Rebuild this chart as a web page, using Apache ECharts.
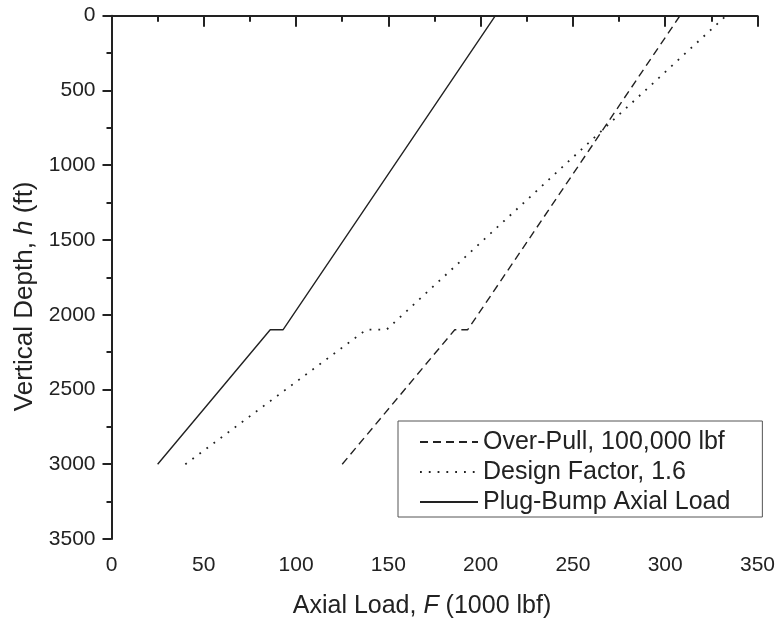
<!DOCTYPE html>
<html>
<head>
<meta charset="utf-8">
<script src="https://cdn.jsdelivr.net/npm/echarts@6/dist/echarts.min.js"></script>
<style>
html,body{margin:0;padding:0;background:#fff;}
#chart{width:778px;height:624px;}
</style>
</head>
<body>
<div id="chart"></div>
<script>
// Data
var depth = [3000, 2100, 2100, 0];
var overPull = [125, 186, 193, 308];
var designFactor = [40, 138, 149, 333];
var plugBump = [25, 86, 93, 208];
var seriesNames = ['Over-Pull, 100,000 lbf', 'Design Factor, 1.6', 'Plug-Bump Axial Load'];

function pairs(xs) {
  return xs.map(function (x, i) { return [x, depth[i]]; });
}

var font = '"Liberation Sans", Arial, Helvetica, sans-serif';
var ink = '#222';

var chart = echarts.init(document.getElementById('chart'), null, {renderer: 'canvas'});
chart.setOption({
  backgroundColor: '#fff',
  animation: false,
  grid: {left: 111.5, right: 19.7, top: 15.7, bottom: 82.3, containLabel: false},
  legend: {
    orient: 'vertical',
    left: 398, top: 421,
    padding: [8, 32, 2, 21],
    itemWidth: 58, itemHeight: 14, itemGap: 4,
    borderColor: '#555', borderWidth: 1,
    itemStyle: {opacity: 0},
    textStyle: {fontFamily: font, fontSize: 25, color: ink, lineHeight: 26},
    data: seriesNames
  },
  xAxis: {
    type: 'value', min: 0, max: 350, interval: 50,
    name: 'Axial Load, {i|F} (1000 lbf)',
    nameLocation: 'middle', nameGap: 55,
    nameTextStyle: {fontFamily: font, fontSize: 25, color: ink, padding: [0, 25, 0, 0],
      rich: {i: {fontFamily: font, fontSize: 25, color: ink, fontStyle: 'italic'}}},
    axisLine: {show: true, lineStyle: {color: ink, width: 2}},
    axisTick: {show: true, inside: false, length: 11, lineStyle: {color: ink, width: 2}},
    minorTick: {show: true, splitNumber: 2, length: 6, lineStyle: {color: ink, width: 2}},
    axisLabel: {fontFamily: font, fontSize: 21, color: ink, margin: 16,
      formatter: function (v) { return String(v); }},
    splitLine: {show: false}
  },
  yAxis: {
    type: 'value', min: 0, max: 3500, interval: 500, inverse: true,
    name: 'Vertical Depth, {i|h} (ft)',
    nameLocation: 'middle', nameGap: 72, nameRotate: 90,
    nameTextStyle: {fontFamily: font, fontSize: 26, color: ink, padding: [0, 38, 0, 0],
      rich: {i: {fontFamily: font, fontSize: 26, color: ink, fontStyle: 'italic'}}},
    axisLine: {show: true, lineStyle: {color: ink, width: 2}},
    axisTick: {show: true, inside: false, length: 9, lineStyle: {color: ink, width: 2}},
    minorTick: {show: true, splitNumber: 2, length: 5, lineStyle: {color: ink, width: 2}},
    axisLabel: {fontFamily: font, fontSize: 21, color: ink, margin: 16,
      formatter: function (v) { return String(v); }},
    splitLine: {show: false}
  },
  series: [
    {name: seriesNames[0], type: 'line', data: pairs(overPull), symbol: 'none',
     lineStyle: {color: ink, width: 1.4, type: [8, 5]}, itemStyle: {color: ink}},
    {name: seriesNames[1], type: 'line', data: pairs(designFactor), symbol: 'none',
     lineStyle: {color: ink, width: 1.8, type: [1.8, 7]}, itemStyle: {color: ink}},
    {name: seriesNames[2], type: 'line', data: pairs(plugBump), symbol: 'none',
     lineStyle: {color: ink, width: 1.4, type: 'solid'}, itemStyle: {color: ink}}
  ]
});
</script>
</body>
</html>
